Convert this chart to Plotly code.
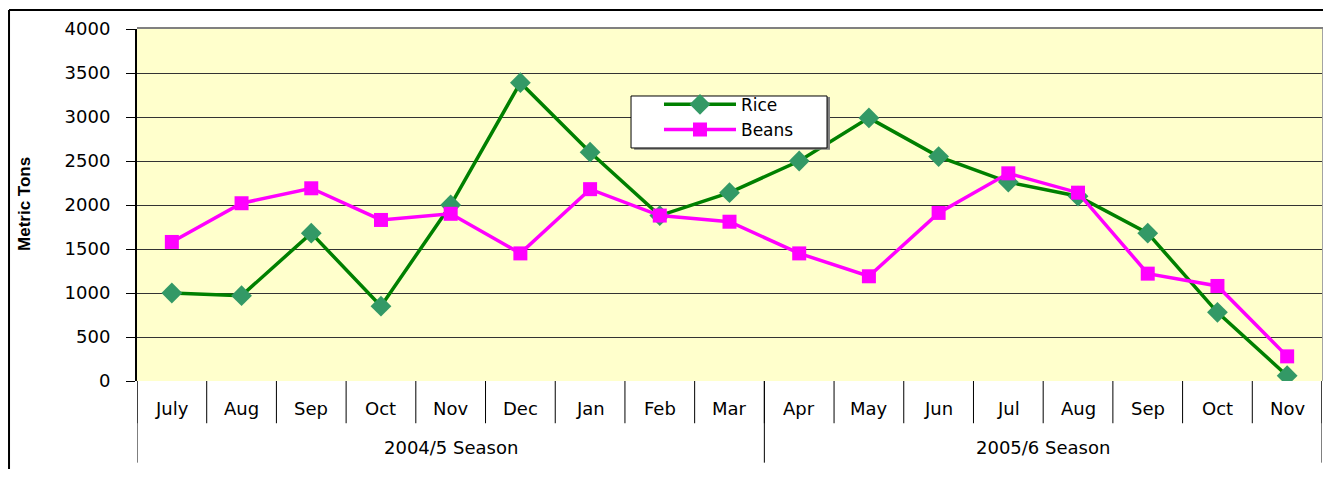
import plotly.graph_objects as go

months = ["July", "Aug", "Sep", "Oct", "Nov", "Dec", "Jan", "Feb", "Mar",
          "Apr", "May", "Jun", "Jul", "Aug", "Sep", "Oct", "Nov"]
seasons = ["2004/5 Season", "2005/6 Season"]
season_counts = [9, 8]
rice = [1000, 970, 1680, 850, 2000, 3390, 2600, 1880, 2140,
        2500, 2990, 2550, 2260, 2100, 1680, 780, 60]
beans = [1580, 2020, 2190, 1830, 1900, 1450, 2180, 1880, 1810,
         1450, 1190, 1910, 2360, 2140, 1220, 1080, 280]
y_ticks = [0, 500, 1000, 1500, 2000, 2500, 3000, 3500, 4000]

x = list(range(len(months)))
FONT = "DejaVu Sans, Verdana, sans-serif"
FS = 18

fig = go.Figure()
fig.add_trace(go.Scatter(
    x=x, y=rice, name="Rice", mode="lines+markers",
    line=dict(color="#008000", width=3.5),
    marker=dict(symbol="diamond", size=16, color="#339966"),
))
fig.add_trace(go.Scatter(
    x=x, y=beans, name="Beans", mode="lines+markers",
    line=dict(color="#FF00FF", width=3.5),
    marker=dict(symbol="square", size=14, color="#FF00FF"),
))

shapes = []
# month dividers
for i in range(len(months) + 1):
    shapes.append(dict(type="line", xref="x", yref="paper",
                       x0=i - 0.5, x1=i - 0.5, y0=0, y1=-0.12,
                       line=dict(color="black", width=1)))
# season dividers and labels
annotations = []
b = -0.5
shapes.append(dict(type="line", xref="x", yref="paper", x0=b, x1=b,
                   y0=0, y1=-0.232, line=dict(color="black", width=1)))
for s, c in zip(seasons, season_counts):
    annotations.append(dict(text=s, xref="x", yref="paper",
                            x=b + c / 2, y=-0.188, showarrow=False,
                            yanchor="middle",
                            font=dict(family=FONT, size=FS, color="black")))
    b += c
    shapes.append(dict(type="line", xref="x", yref="paper", x0=b, x1=b,
                       y0=0, y1=-0.232, line=dict(color="black", width=1)))
# month labels
for i, m in enumerate(months):
    annotations.append(dict(text=m, xref="x", yref="paper", x=i, y=-0.078,
                            showarrow=False, yanchor="middle",
                            font=dict(family=FONT, size=FS, color="black")))
# plot area shadow (right/top)
shapes.append(dict(type="line", xref="paper", yref="paper", x0=1.0015, x1=1.0015,
                   y0=0, y1=1.004, line=dict(color="#808080", width=3)))
shapes.append(dict(type="line", xref="paper", yref="paper", x0=0, x1=1.0015,
                   y0=1.003, y1=1.003, line=dict(color="#808080", width=2)))
# outer frame
shapes.append(dict(type="line", xref="paper", yref="paper", x0=-0.108, x1=1.02,
                   y0=1.054, y1=1.054, line=dict(color="black", width=2)))
shapes.append(dict(type="line", xref="paper", yref="paper", x0=-0.108, x1=-0.108,
                   y0=1.054, y1=-0.3, line=dict(color="black", width=2)))
# legend box (with slight shadow)
shapes.append(dict(type="rect", xref="paper", yref="paper", layer="above",
                   x0=0.4195, x1=0.5848, y0=0.657, y1=0.807,
                   fillcolor="#808080", line=dict(width=0)))
shapes.append(dict(type="rect", xref="paper", yref="paper", layer="above",
                   x0=0.4169, x1=0.5823, y0=0.662, y1=0.8097,
                   fillcolor="white", line=dict(color="black", width=1)))

annotations.append(dict(text="<b>Metric Tons</b>", xref="paper", yref="paper",
                        x=-0.0945, y=0.503, textangle=-90, showarrow=False,
                        xanchor="center", yanchor="middle",
                        font=dict(family="Liberation Sans, Arial, sans-serif",
                                  size=17, color="black")))

fig.update_layout(
    width=1315, height=461,
    margin=dict(l=129, r=1, t=21, b=88),
    paper_bgcolor="white", plot_bgcolor="#FFFFCC",
    showlegend=True,
    legend=dict(x=0.4405, y=0.836, xanchor="left", yanchor="top",
                bgcolor="rgba(0,0,0,0)", borderwidth=0,
                font=dict(family=FONT, size=17, color="black"),
                itemwidth=72, tracegroupgap=0),
    shapes=shapes, annotations=annotations,
    xaxis=dict(range=[-0.5, len(months) - 0.5], showticklabels=False,
               showgrid=False, zeroline=False, showline=False, ticks=""),
    yaxis=dict(range=[0, 4000], tickvals=y_ticks, ticks="outside",
               ticklen=9, tickcolor="black", showgrid=True,
               gridcolor="#333333", gridwidth=1, zeroline=False,
               showline=True, linecolor="black", linewidth=2,
               ticklabelstandoff=12,
               tickfont=dict(family=FONT, size=FS, color="black")),
    font=dict(family=FONT),
)

fig.write_html("out.html")
